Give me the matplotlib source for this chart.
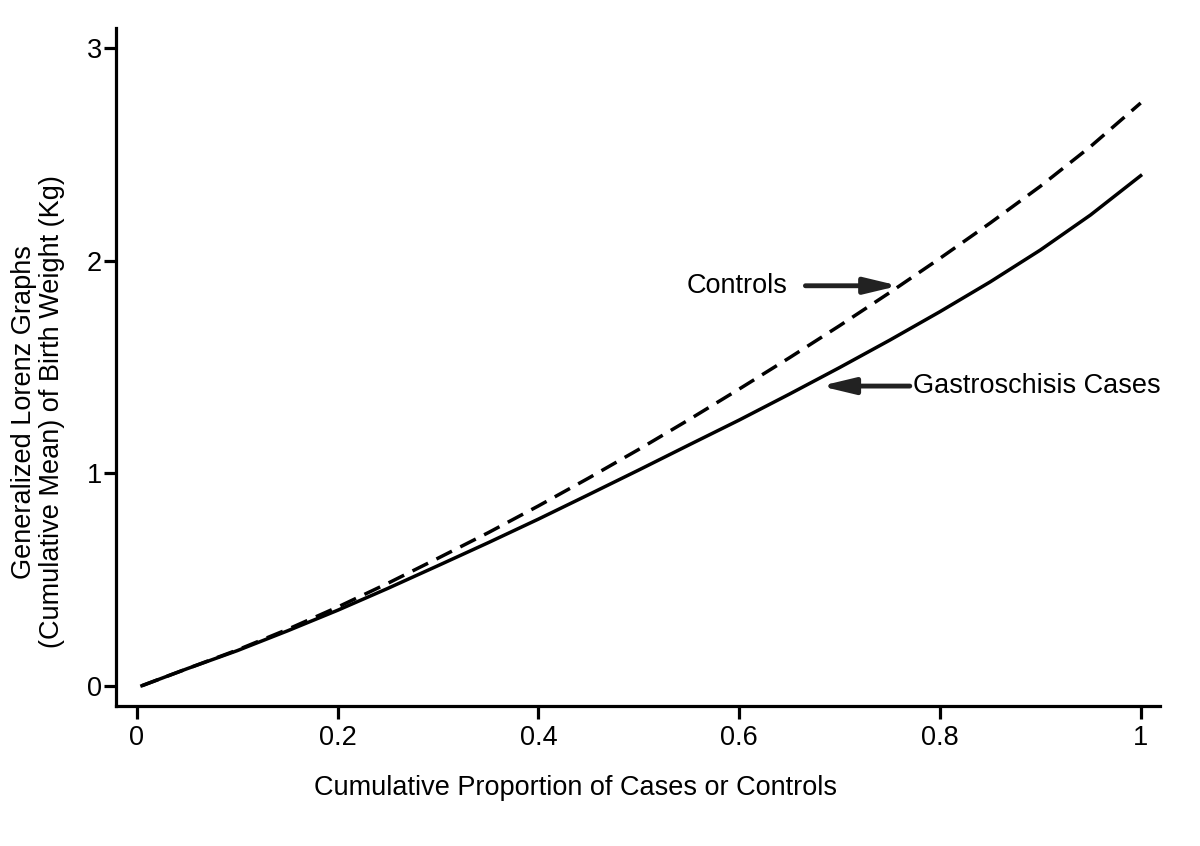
import matplotlib
matplotlib.use("Agg")
import matplotlib.pyplot as plt

plt.rcParams['font.family'] = ['Liberation Sans', 'DejaVu Sans']

# Data
proportion = [0.005, 0.05, 0.1, 0.15, 0.2, 0.25, 0.3, 0.35, 0.4, 0.45, 0.5,
              0.55, 0.6, 0.65, 0.7, 0.75, 0.8, 0.85, 0.9, 0.95, 1.0]
cases = [0.0, 0.08, 0.165, 0.258, 0.355, 0.458, 0.565, 0.673, 0.784, 0.899, 1.015,
         1.133, 1.25, 1.372, 1.497, 1.626, 1.76, 1.90, 2.05, 2.215, 2.40]
controls = [0.0, 0.08, 0.168, 0.265, 0.37, 0.482, 0.60, 0.72, 0.846, 0.977, 1.112,
            1.252, 1.396, 1.543, 1.694, 1.85, 2.011, 2.177, 2.35, 2.537, 2.742]
x_ticks = [0, 0.2, 0.4, 0.6, 0.8, 1.0]
x_tick_labels = ["0", "0.2", "0.4", "0.6", "0.8", "1"]
y_ticks = [0, 1, 2, 3]
y_tick_labels = ["0", "1", "2", "3"]

FS = 19.5

fig = plt.figure(figsize=(12, 8.46), dpi=100)
ax = fig.add_axes([0.0963, 0.1655, 0.9667 - 0.0963, 0.9669 - 0.1655])

ax.plot(proportion, controls, color='black', lw=2.5, linestyle=(0, (5, 2.7)))
ax.plot(proportion, cases, color='black', lw=2.5)

ax.set_xlim(-0.0213, 1.0193)
ax.set_ylim(-0.0955, 3.095)
ax.set_xticks(x_ticks)
ax.set_xticklabels(x_tick_labels)
ax.set_yticks(y_ticks)
ax.set_yticklabels(y_tick_labels)

for s in ['top', 'right']:
    ax.spines[s].set_visible(False)
for s in ['left', 'bottom']:
    ax.spines[s].set_linewidth(2.3)

ax.tick_params(axis='both', direction='out', length=9, width=2.3, labelsize=FS)
ax.tick_params(axis='x', pad=5)
ax.tick_params(axis='y', pad=1)

fig.text(575 / 1200, 1 - 788 / 846, "Cumulative Proportion of Cases or Controls",
         ha='center', va='center', fontsize=FS)
fig.text(24 / 1200, 1 - 412 / 846, "Generalized Lorenz Graphs",
         ha='center', va='center', rotation=90, fontsize=FS)
fig.text(52 / 1200, 1 - 412 / 846, "(Cumulative Mean) of Birth Weight (Kg)",
         ha='center', va='center', rotation=90, fontsize=FS)

arrow = dict(arrowstyle='-|>,head_length=1.0,head_width=0.24', color='#222222',
             lw=3.5, mutation_scale=20, shrinkA=0, shrinkB=0)
ax.annotate("", xy=(0.759, 1.882), xytext=(0.666, 1.882), arrowprops=arrow)
ax.text(0.548, 1.882, "Controls", ha='left', va='center', fontsize=FS)
ax.annotate("", xy=(0.681, 1.41), xytext=(0.770, 1.41), arrowprops=arrow)
ax.text(0.773, 1.41, "Gastroschisis Cases", ha='left', va='center', fontsize=FS)

fig.savefig("out.png", dpi=100)
